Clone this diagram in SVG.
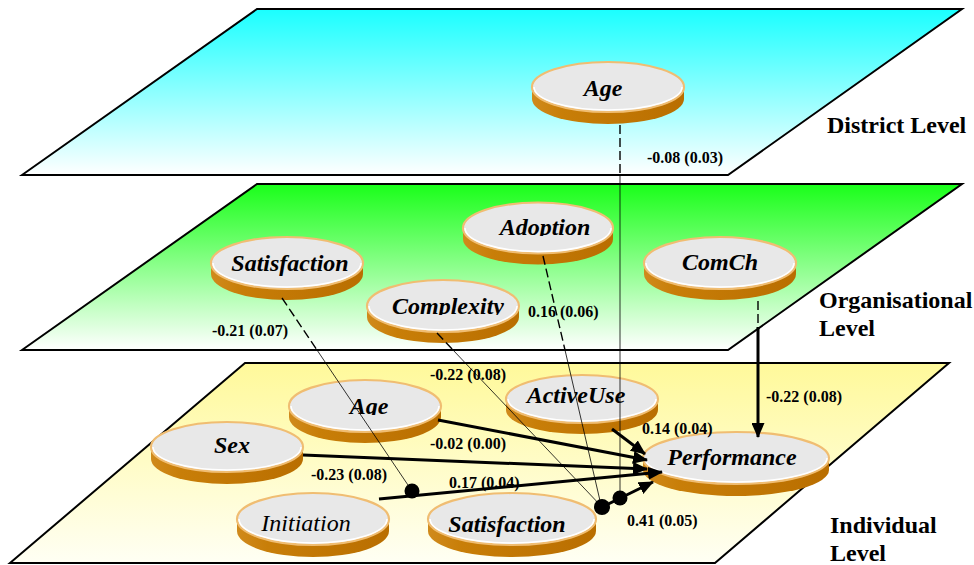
<svg xmlns="http://www.w3.org/2000/svg" width="974" height="565" viewBox="0 0 974 565">
  <style>
    .plane { stroke: #000; stroke-width: 2; stroke-linejoin: miter; }
    .side { fill: url(#sideGrad); }
    .face { fill: #e8e8e8; stroke: #f0bd72; stroke-width: 2.2; }
    .hl { fill: none; stroke: #ffffff; stroke-width: 1.6; }
    .lbl { font-family: "Liberation Serif", "Times New Roman", serif; font-weight: bold; font-style: italic; font-size: 24px; text-anchor: middle; fill: #000; }
    .lbl.plain { font-weight: normal; }
    .lvl { font-family: "Liberation Serif", "Times New Roman", serif; font-weight: bold; font-size: 24px; fill: #000; }
    .coef { font-family: "Liberation Serif", "Times New Roman", serif; font-weight: bold; font-size: 16px; fill: #000; }
    .dash { stroke: #000; stroke-width: 1.4; stroke-dasharray: 9 4; fill: none; }
    .thin { stroke: #000; stroke-width: 0.8; fill: none; }
    .thick { stroke: #000; stroke-width: 3; fill: none; marker-end: url(#arrow); }
    .dot { fill: #000; }
  </style>
  <defs>
    <linearGradient id="gCyan" x1="0" y1="0" x2="0" y2="1">
      <stop offset="0" stop-color="#1affff"/>
      <stop offset="1" stop-color="#ffffff"/>
    </linearGradient>
    <linearGradient id="gGreen" x1="0" y1="0" x2="0" y2="1">
      <stop offset="0" stop-color="#1aff1a"/>
      <stop offset="1" stop-color="#ffffff"/>
    </linearGradient>
    <linearGradient id="gYellow" x1="0" y1="0" x2="0" y2="1">
      <stop offset="0" stop-color="#fff99a"/>
      <stop offset="1" stop-color="#fffff4"/>
    </linearGradient>
    <linearGradient id="sideGrad" x1="0" y1="0" x2="1" y2="0">
      <stop offset="0" stop-color="#d08a1c"/>
      <stop offset="0.2" stop-color="#c87e08"/>
      <stop offset="1" stop-color="#b96e00"/>
    </linearGradient>
    <marker id="arrow" viewBox="0 0 15 13" refX="14" refY="6.5" markerWidth="15" markerHeight="13" markerUnits="userSpaceOnUse" orient="auto">
      <path d="M0,0 L15,6.5 L0,13 Z" fill="#000"/>
    </marker>
    <clipPath id="clipAdo"><rect x="-90" y="-40" width="180" height="48"/></clipPath>
    <clipPath id="clipCom"><rect x="-90" y="-40" width="180" height="49"/></clipPath>
    <clipPath id="clipAge"><rect x="-90" y="-40" width="180" height="49"/></clipPath>
  </defs>

  <!-- level planes -->
  <g id="planes">
    <polygon id="district-plane" class="plane" fill="url(#gCyan)" points="22,175 257,9 962,9 728,175"/>
    <polygon id="organisational-plane" class="plane" fill="url(#gGreen)" points="22,350 257,184 962,184 728,350"/>
    <polygon id="individual-plane" class="plane" fill="url(#gYellow)" points="10,563 245,363 949,363 715,563"/>
  </g>

  <!-- level titles -->
  <g id="level-labels">
    <text class="lvl" x="827" y="133">District Level</text>
    <text class="lvl" x="819" y="308">Organisational</text>
    <text class="lvl" x="819" y="336">Level</text>
    <text class="lvl" x="830" y="533">Individual</text>
    <text class="lvl" x="830" y="561">Level</text>
  </g>

  <!-- district level -->
  <g id="district-age" transform="translate(608,87)">
    <path class="side" d="M-76,0 V12 A76 25 0 0 0 76,12 V0 Z"/>
    <ellipse class="face" rx="76" ry="25"/>
    <path class="hl" d="M-74,0 A74 23 0 0 0 74,0"/>
    <text class="lbl" x="-5" y="9">Age</text>
  </g>

  <!-- organisational level -->
  <g id="org-satisfaction" transform="translate(287,263)">
    <path class="side" d="M-76,0 V11 A76 26 0 0 0 76,11 V0 Z"/>
    <ellipse class="face" rx="76" ry="26"/>
    <path class="hl" d="M-74,0 A74 24 0 0 0 74,0"/>
    <text class="lbl" x="3" y="8">Satisfaction</text>
  </g>
  <g id="org-complexity" transform="translate(443,306)">
    <path class="side" d="M-76,0 V11 A76 26 0 0 0 76,11 V0 Z"/>
    <ellipse class="face" rx="76" ry="26"/>
    <path class="hl" d="M-74,0 A74 24 0 0 0 74,0"/>
    <text class="lbl" x="5" y="8" clip-path="url(#clipCom)">Complexity</text>
  </g>
  <g id="org-adoption" transform="translate(538,228)">
    <path class="side" d="M-75,0 V11 A75 25.5 0 0 0 75,11 V0 Z"/>
    <ellipse class="face" rx="75" ry="25.5"/>
    <path class="hl" d="M-73,0 A73 23.5 0 0 0 73,0"/>
    <text class="lbl" x="7" y="7" clip-path="url(#clipAdo)">Adoption</text>
  </g>
  <g id="org-comch" transform="translate(720,263)">
    <path class="side" d="M-76,0 V11 A76 26 0 0 0 76,11 V0 Z"/>
    <ellipse class="face" rx="76" ry="26"/>
    <path class="hl" d="M-74,0 A74 24 0 0 0 74,0"/>
    <text class="lbl" x="0" y="7">ComCh</text>
  </g>

  <!-- individual level -->
  <g id="ind-age" transform="translate(365,406)">
    <path class="side" d="M-76,0 V11 A76 26 0 0 0 76,11 V0 Z"/>
    <ellipse class="face" rx="76" ry="26"/>
    <path class="hl" d="M-74,0 A74 24 0 0 0 74,0"/>
    <text class="lbl" x="4" y="8" clip-path="url(#clipAge)">Age</text>
  </g>
  <g id="ind-sex" transform="translate(227,447)">
    <path class="side" d="M-76,0 V12 A76 25 0 0 0 76,12 V0 Z"/>
    <ellipse class="face" rx="76" ry="25"/>
    <path class="hl" d="M-74,0 A74 23 0 0 0 74,0"/>
    <text class="lbl" x="5" y="6">Sex</text>
  </g>
  <g id="ind-initiation" transform="translate(313,519)">
    <path class="side" d="M-76,0 V12 A76 26 0 0 0 76,12 V0 Z"/>
    <ellipse class="face" rx="76" ry="26"/>
    <path class="hl" d="M-74,0 A74 24 0 0 0 74,0"/>
    <text class="lbl plain" x="-7" y="12">Initiation</text>
  </g>
  <g id="ind-satisfaction" transform="translate(512,519)">
    <path class="side" d="M-84,0 V12 A84 26 0 0 0 84,12 V0 Z"/>
    <ellipse class="face" rx="84" ry="26"/>
    <path class="hl" d="M-82,0 A82 24 0 0 0 82,0"/>
    <text class="lbl" x="-5" y="13">Satisfaction</text>
  </g>
  <g id="ind-activeuse" transform="translate(582,399)">
    <path class="side" d="M-76,0 V11 A76 24 0 0 0 76,11 V0 Z"/>
    <ellipse class="face" rx="76" ry="24"/>
    <path class="hl" d="M-74,0 A74 22 0 0 0 74,0"/>
    <text class="lbl" x="-6" y="4">ActiveUse</text>
  </g>
  <g id="ind-performance" transform="translate(736,458)">
    <path class="side" d="M-93,0 V12 A93 26 0 0 0 93,12 V0 Z"/>
    <ellipse class="face" rx="93" ry="26"/>
    <path class="hl" d="M-91,0 A91 24 0 0 0 91,0"/>
    <text class="lbl" x="-4" y="7">Performance</text>
  </g>

  <!-- paths between levels and into Performance -->
  <g id="connectors">
    <!-- District Age: cross-level moderation -->
    <line class="dash" x1="620" y1="125" x2="620" y2="175"/>
    <line class="thin" x1="620" y1="175" x2="620" y2="498"/>
    <!-- Organisational Satisfaction -->
    <line class="dash" x1="282" y1="298" x2="317" y2="350"/>
    <line class="thin" x1="317" y1="350" x2="412" y2="491"/>
    <!-- Complexity -->
    <line class="dash" x1="437" y1="333" x2="453" y2="350"/>
    <line class="thin" x1="453" y1="350" x2="602" y2="507"/>
    <!-- Adoption -->
    <line class="dash" x1="543" y1="256" x2="565" y2="350"/>
    <line class="thin" x1="565" y1="350" x2="601" y2="505"/>
    <!-- ComCh direct effect -->
    <line class="dash" x1="758" y1="301" x2="758" y2="327"/>
    <line class="thick" x1="758" y1="327" x2="758" y2="437"/>
    <!-- individual-level effects -->
    <line class="thick" x1="612" y1="429" x2="645" y2="454"/>
    <line class="thick" x1="438" y1="420" x2="647" y2="460"/>
    <line class="thick" x1="303" y1="455" x2="647" y2="469"/>
    <line class="thick" x1="379" y1="499" x2="662" y2="472"/>
    <line class="thick" x1="598" y1="509" x2="653" y2="482"/>
    <!-- moderation points -->
    <circle class="dot" cx="412" cy="491" r="7.5"/>
    <circle class="dot" cx="602" cy="507" r="8"/>
    <circle class="dot" cx="620" cy="498" r="7.5"/>
  </g>

  <!-- path coefficients -->
  <g id="coefficients">
    <text class="coef" x="647" y="163">-0.08 (0.03)</text>
    <text class="coef" x="212" y="336">-0.21 (0.07)</text>
    <text class="coef" x="528" y="317">0.16 (0.06)</text>
    <text class="coef" x="430" y="380">-0.22 (0.08)</text>
    <text class="coef" x="766" y="402">-0.22 (0.08)</text>
    <text class="coef" x="642" y="434">0.14 (0.04)</text>
    <text class="coef" x="430" y="449">-0.02 (0.00)</text>
    <text class="coef" x="311" y="480">-0.23 (0.08)</text>
    <text class="coef" x="449" y="488">0.17 (0.04)</text>
    <text class="coef" x="627" y="526">0.41 (0.05)</text>
  </g>
</svg>
